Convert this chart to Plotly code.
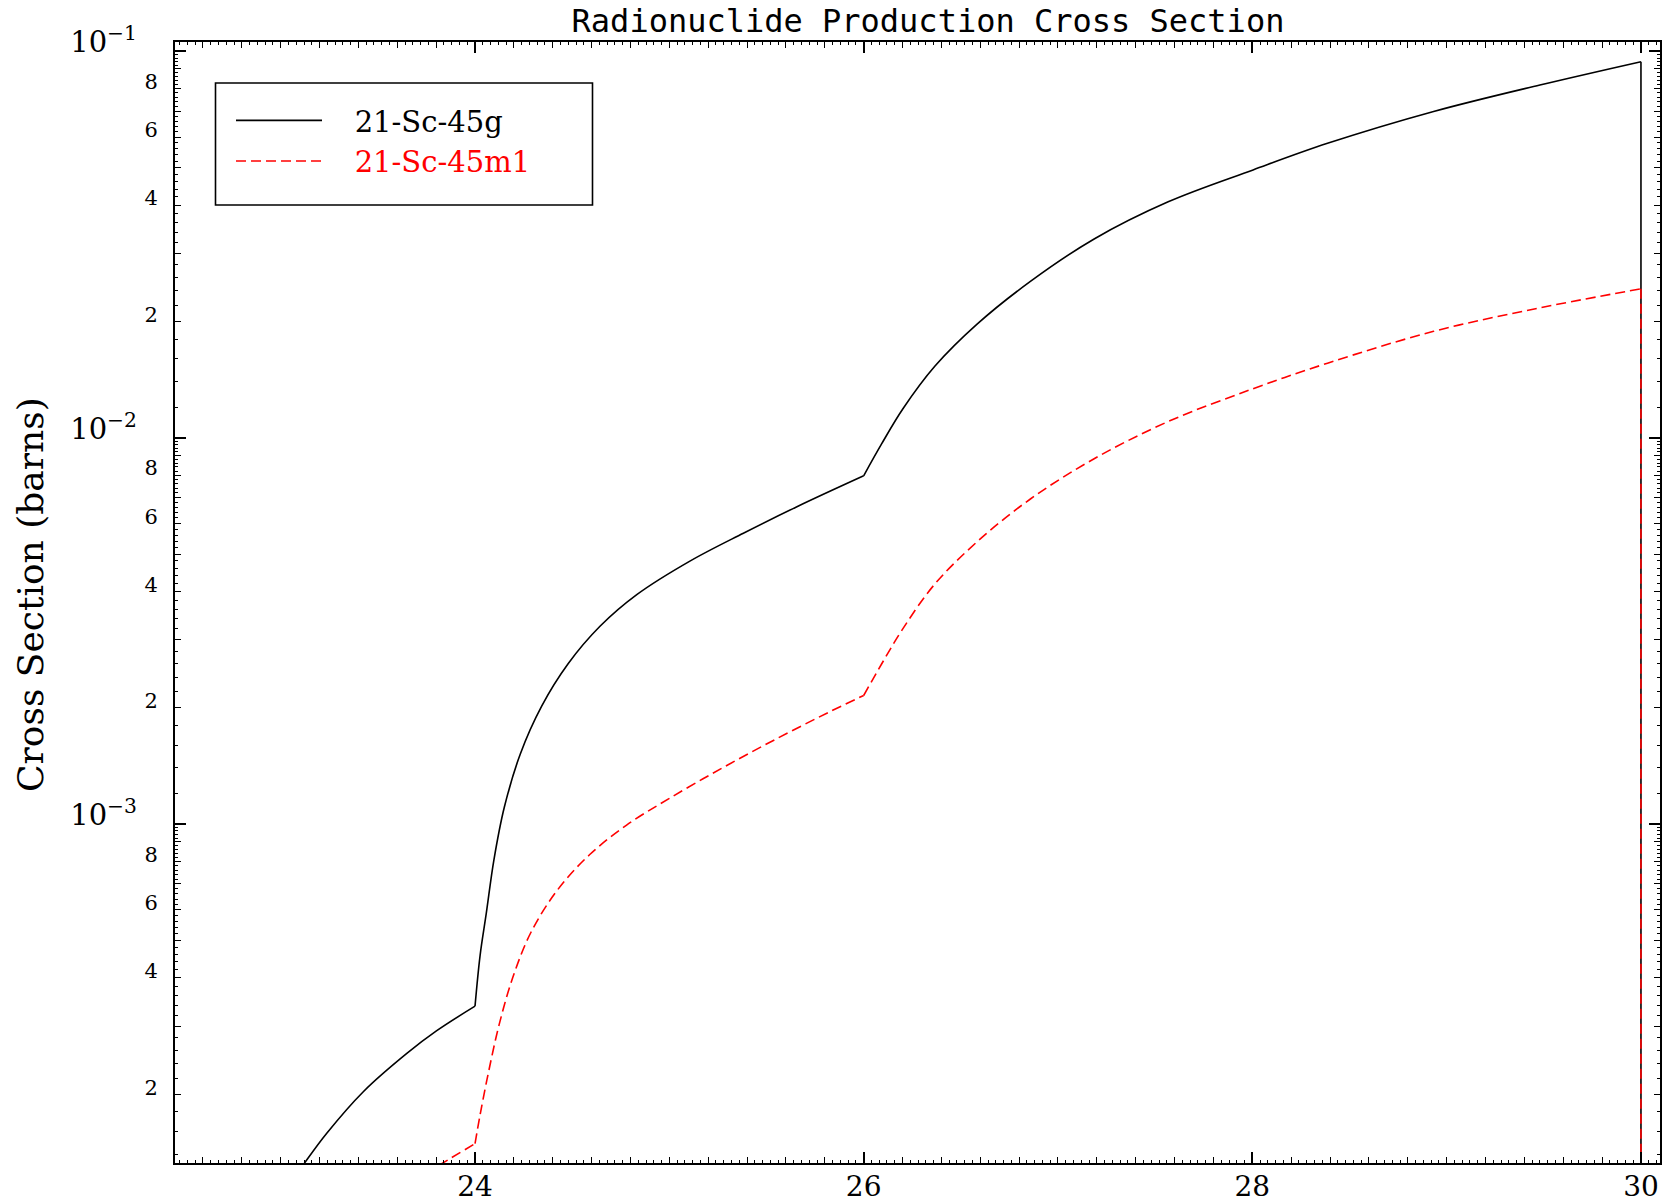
import numpy as np
import plotly.graph_objects as go

# ---------------- data (energy in MeV, cross section in barns) ----------------
sc45g_energy = [23.0, 23.124, 23.237, 23.425, 23.649, 23.803, 24.0,
                24.026, 24.058, 24.097, 24.151, 24.233, 24.343, 24.479, 24.643,
                24.834, 25.108, 25.381, 25.654, 26.0,
                26.093, 26.202, 26.366, 26.585, 26.858, 27.186, 27.567, 28.004,
                28.387, 28.933, 29.480, 30.0, 30.0]
sc45g_xs = [1.08e-4, 1.33e-4, 1.585e-4, 2.03e-4, 2.55e-4, 2.92e-4, 3.38e-4,
            4.57e-4, 5.88e-4, 8.07e-4, 1.107e-3, 1.519e-3, 2.02e-3, 2.60e-3, 3.25e-3,
            3.93e-3, 4.80e-3, 5.66e-3, 6.62e-3, 7.97e-3,
            9.65e-3, 1.188e-2, 1.530e-2, 1.970e-2, 2.538e-2, 3.268e-2, 4.078e-2, 4.932e-2,
            5.777e-2, 6.985e-2, 8.18e-2, 9.40e-2, 1e-6]

sc45m1_energy = [23.75, 23.837, 24.0,
                 24.026, 24.069, 24.124, 24.195, 24.288, 24.425, 24.589, 24.780,
                 24.998, 25.271, 25.545, 25.818, 26.0,
                 26.093, 26.202, 26.366, 26.585, 26.858, 27.186, 27.567, 28.004,
                 28.387, 28.933, 29.480, 30.0, 30.0]
sc45m1_xs = [1.25e-4, 1.33e-4, 1.49e-4,
             1.768e-4, 2.276e-4, 3.027e-4, 4.02e-4, 5.25e-4, 6.76e-4, 8.33e-4, 9.94e-4,
             1.164e-3, 1.396e-3, 1.656e-3, 1.945e-3, 2.152e-3,
             2.60e-3, 3.205e-3, 4.18e-3, 5.385e-3, 6.94e-3, 8.82e-3, 1.101e-2, 1.339e-2,
             1.559e-2, 1.885e-2, 2.168e-2, 2.428e-2, 1e-6]

# energies where the evaluated curves have kinks (no smoothing across them)
kink_energies = [24.0, 26.0, 30.0]

series_names = ["21-Sc-45g", "21-Sc-45m1"]
x_major_ticks = [24, 26, 28, 30]
y_decades = [1e-4, 1e-3, 1e-2, 1e-1]
y_decade_labels = ["10<sup>−4</sup>", "10<sup>−3</sup>", "10<sup>−2</sup>", "10<sup>−1</sup>"]
y_labeled_mults = [2, 4, 6, 8]
y_unlabeled_mults = [3, 5, 7, 9]

title_text = "Radionuclide Production Cross Section"
y_title_text = "Cross Section (barns)"


def split_at_kinks(xs, ys, kinks):
    """Insert gaps at kink energies (repeating the kink point) so each smooth
    piece is splined separately."""
    ox, oy = [], []
    n = len(xs)
    for i in range(n):
        ox.append(xs[i])
        oy.append(ys[i])
        if 0 < i < n - 1 and xs[i] in kinks:
            ox.extend([None, xs[i]])
            oy.extend([None, ys[i]])
    return ox, oy


# ---------------- geometry / tick sets ----------------
x_range = [22.456, 30.098]
y_range = [-3.877, -0.976]

x_medium = [round(v, 2) for v in np.arange(22.6, 30.01, 0.2) if round(v, 2) not in x_major_ticks]
x_small = [round(v, 3) for v in np.arange(22.48, 30.09, 0.04)]

y_lab_vals, y_lab_text, y_mid_vals, y_small_vals = [], [], [], []
for d in [1e-4, 1e-3, 1e-2]:
    for k in y_labeled_mults:
        y_lab_vals.append(k * d)
        y_lab_text.append(str(k))
    for k in y_unlabeled_mults:
        y_mid_vals.append(k * d)
    for m in np.arange(1.2, 10.0, 0.2):
        mm = round(m, 1)
        if abs(mm - round(mm)) > 1e-6:
            y_small_vals.append(mm * d)

FONT = "DejaVu Serif"
NB = "\u00a0"

W, H = 1665, 1204
PL, PR, PT, PB = 175, 1660, 42, 1163          # plot frame in page pixels
PW, PH = PR - PL, PB - PT


def px_x(px):
    return (px - PL) / PW


def px_y(py):
    return 1 - (py - PT) / PH


fig = go.Figure()
gx, gy = split_at_kinks(sc45g_energy, sc45g_xs, kink_energies)
mx, my = split_at_kinks(sc45m1_energy, sc45m1_xs, kink_energies)
fig.add_trace(go.Scatter(x=gx, y=gy, mode="lines", name=NB * 3 + series_names[0],
                         line=dict(color="black", width=1.6, shape="spline", smoothing=1.0)))
fig.add_trace(go.Scatter(x=mx, y=my, mode="lines",
                         name=NB * 3 + "<span style='color:red'>" + series_names[1] + "</span>",
                         line=dict(color="red", width=1.6, dash="10px,5px",
                                   shape="spline", smoothing=1.0)))
# holder traces so the overlay axes (extra tick levels) are drawn
fig.add_trace(go.Scatter(x=[None], y=[None], xaxis="x2", yaxis="y2", showlegend=False,
                         hoverinfo="skip"))
fig.add_trace(go.Scatter(x=[None], y=[None], xaxis="x2", yaxis="y3", showlegend=False,
                         hoverinfo="skip"))

tick_common = dict(showgrid=False, zeroline=False, automargin=False, ticks="inside",
                   tickcolor="black", tickmode="array")

fig.update_layout(
    width=W, height=H,
    margin=dict(l=PL, r=W - PR, t=PT, b=H - PB, autoexpand=False),
    paper_bgcolor="white", plot_bgcolor="white",
    showlegend=True,
    title=dict(text=title_text, x=928 / W, xanchor="center", xref="container",
               y=1 - 21 / H, yanchor="middle", yref="container",
               font=dict(family="DejaVu Sans Mono", size=32, color="black")),
    xaxis=dict(range=x_range, **tick_common,
               showline=True, linecolor="black", linewidth=2, mirror="ticks",
               ticklen=11, tickwidth=1.5,
               tickvals=x_major_ticks, ticktext=[str(v) for v in x_major_ticks],
               tickfont=dict(family=FONT, size=28, color="black"), ticklabelstandoff=-3,
               minor=dict(tickmode="array", tickvals=x_medium, ticks="inside", ticklen=6,
                          tickwidth=1.3, tickcolor="black", showgrid=False)),
    xaxis2=dict(range=x_range, overlaying="x", anchor="y", side="bottom", **tick_common,
                showline=False, mirror="ticks", ticklen=3, tickwidth=1.2,
                tickvals=x_small, showticklabels=False),
    yaxis=dict(type="log", range=y_range, **tick_common,
               showline=True, linecolor="black", linewidth=2, mirror="ticks",
               ticklen=6, tickwidth=1.3,
               tickvals=y_lab_vals, ticktext=y_lab_text,
               tickfont=dict(family=FONT, size=21, color="black"),
               ticklabelstandoff=11, ticklabelshift=-7,
               minor=dict(tickmode="array", tickvals=y_mid_vals, ticks="inside", ticklen=6,
                          tickwidth=1.3, tickcolor="black", showgrid=False)),
    yaxis2=dict(type="log", range=y_range, overlaying="y", anchor="x", side="left",
                **tick_common, showline=False, mirror="ticks",
                ticklen=11, tickwidth=1.5,
                tickvals=y_decades, ticktext=y_decade_labels,
                tickfont=dict(family=FONT, size=29, color="black"),
                ticklabelstandoff=37, ticklabelshift=-9),
    yaxis3=dict(type="log", range=y_range, overlaying="y", anchor="x", side="left",
                **tick_common, showline=False, mirror="ticks",
                ticklen=3, tickwidth=1.2, tickvals=y_small_vals, showticklabels=False),
    legend=dict(x=px_x(231), y=px_y(95), xanchor="left", yanchor="top",
                bgcolor="rgba(0,0,0,0)", borderwidth=0,
                font=dict(family=FONT, size=29, color="black"),
                itemwidth=86, tracegroupgap=0),
    shapes=[dict(type="rect", xref="paper", yref="paper",
                 x0=px_x(215.5), x1=px_x(592.5), y0=px_y(205), y1=px_y(83),
                 line=dict(color="black", width=1.6), fillcolor="rgba(0,0,0,0)", layer="above")],
    annotations=[dict(text=y_title_text, textangle=-90, xref="paper", yref="paper",
                      x=px_x(30), y=px_y(595), xanchor="center", yanchor="middle",
                      showarrow=False, font=dict(family=FONT, size=36, color="black"))],
)

# the page body has a default 8px margin; remove it so the figure sits at (0, 0)
fig.write_html("out.html", config={"displayModeBar": False},
               post_script="document.body.style.margin='0px';")
